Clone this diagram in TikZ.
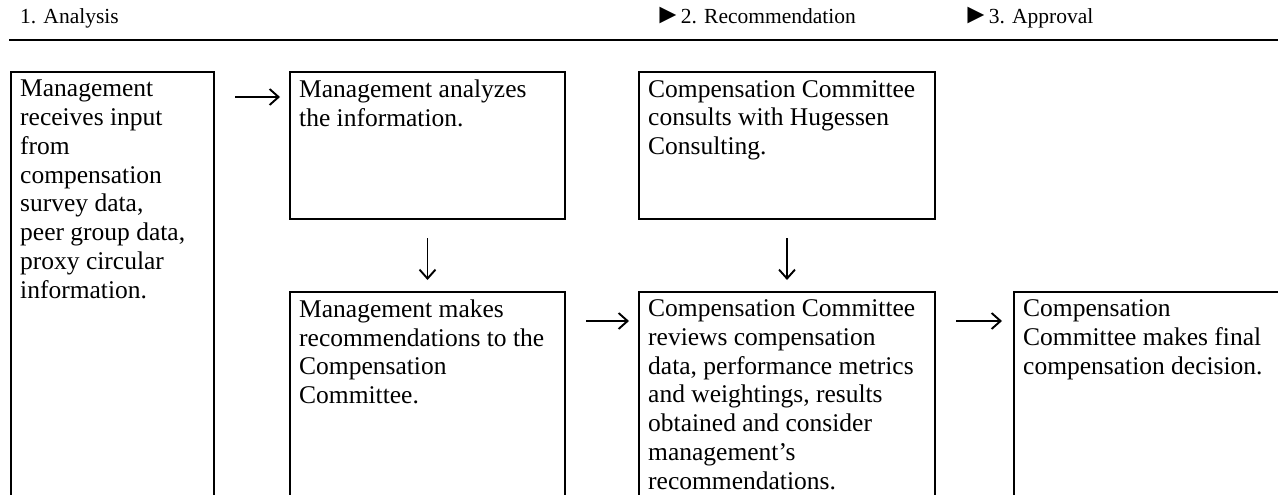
\documentclass[tikz,border=0pt]{standalone}
\usepackage{fontspec}
\setmainfont{Liberation Serif}
\usetikzlibrary{arrows.meta,positioning}

\newcommand{\bodyfont}{\fontsize{25.5}{28.75}\selectfont}
\newcommand{\headfont}{\fontsize{21.5}{24}\selectfont}
\newcommand{\pointer}{{\fontsize{28}{28}\selectfont ►}\kern-1pt}

\tikzset{
  box/.style={draw, line width=2pt, inner sep=0pt, anchor=north west},
  txt/.style={anchor=north west, inner sep=0pt, align=left, font=\bodyfont},
  phase/.style={anchor=base west, inner sep=0pt, font=\headfont},
  flow/.style={line width=1.9pt, -{Straight Barb[length=9pt,width=16pt]}}
}

\begin{document}
\begin{tikzpicture}[x=1pt, y=-1pt]
	\useasboundingbox (0,0) rectangle (1278,495);
	\clip (0,0) rectangle (1278,495);
	% phases
	\node[phase] (ph1) at (20,24) {1. Analysis};
	\node[phase] (ph2) at (654,24) {\pointer2. Recommendation};
	\node[phase] (ph3) at (962,24) {\pointer3. Approval};
	\draw[line width=2pt] (9,40) -- (1278,40);
	% boxes
	\node[box, minimum width=203pt, minimum height=460pt] (input) at (10,71) {};
	\node[box, minimum width=275pt, minimum height=147pt] (analyze) at (289,71) {};
	\node[box, minimum width=296pt, minimum height=147pt] (consult) at (638,71) {};
	\node[box, minimum width=275pt, minimum height=260pt] (propose) at (289,291) {};
	\node[box, minimum width=296pt, minimum height=260pt] (review) at (638,291) {};
	\node[box, minimum width=320pt, minimum height=260pt] (decide) at (1013,291) {};
	% texts
	\node[txt] at ([xshift=10pt,yshift=-9pt]input.north west) {Management\\receives input\\from\\compensation\\survey data,\\peer group data,\\proxy circular\\information.};
	\node[txt] at ([xshift=10pt,yshift=-9pt]analyze.north west) {Management analyzes\\the information.};
	\node[txt] at ([xshift=10pt,yshift=-9pt]consult.north west) {Compensation Committee\\consults with Hugessen\\Consulting.};
	\node[txt] at ([xshift=10pt,yshift=-8.5pt]propose.north west) {Management makes\\recommendations to the\\Compensation\\Committee.};
	\node[txt] at ([xshift=10pt,yshift=-8.5pt]review.north west) {Compensation Committee\\reviews compensation\\data, performance metrics\\and weightings, results\\obtained and consider\\management’s\\recommendations.};
	\node[txt] at ([xshift=10pt,yshift=-8.5pt]decide.north west) {Compensation\\Committee makes final\\compensation decision.};
	% arrows
	\draw[flow, shorten <=20pt, shorten >=9pt] ([yshift=-26pt]input.north east) -- ([yshift=-26pt]analyze.north west);
	\draw[flow, shorten <=18pt, shorten >=11pt] (analyze.south) -- (propose.north);
	\draw[flow, shorten <=18pt, shorten >=11pt] (consult.south) -- (review.north);
	\draw[flow, shorten <=20pt, shorten >=9pt] ([yshift=-30pt]propose.north east) -- ([yshift=-30pt]review.north west);
	\draw[flow, shorten <=20pt, shorten >=11pt] ([yshift=-30pt]review.north east) -- ([yshift=-30pt]decide.north west);
\end{tikzpicture}
\end{document}
